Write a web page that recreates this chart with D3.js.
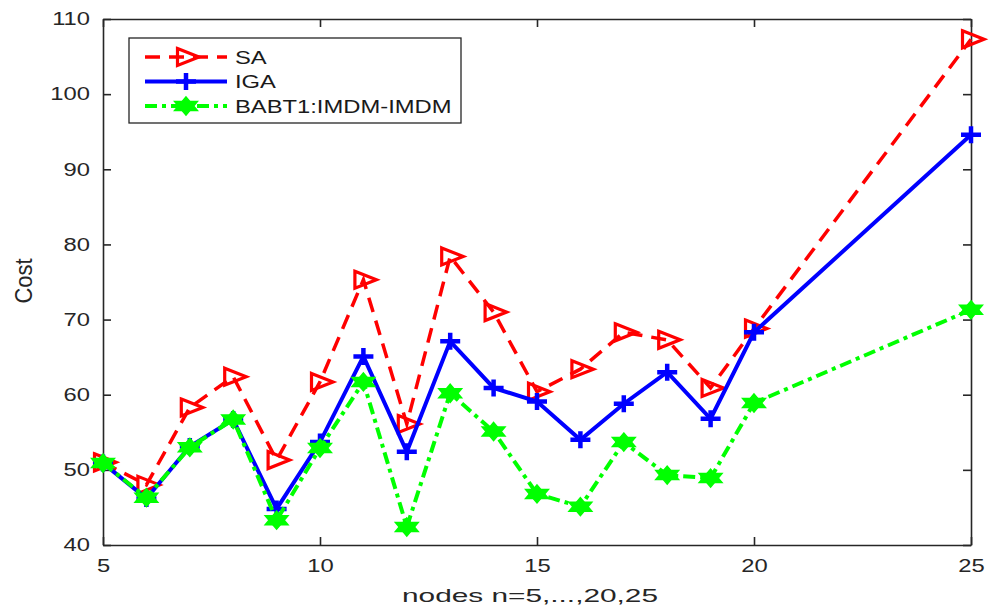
<!DOCTYPE html>
<html><head><meta charset="utf-8">
<script src="https://cdn.jsdelivr.net/npm/d3@7"></script>
<style>body{margin:0;background:#fff}svg{display:block}text{font-family:"Liberation Sans",Arial,sans-serif}</style>
</head><body><svg id="c" width="989" height="609"></svg>
<script>
const nodes = [5,6,7,8,9,10,11,12,13,14,15,16,17,18,19,20,25];
const saValues = [51.0,48.0,58.3,62.4,51.3,61.7,75.3,56.1,78.4,71.0,60.4,63.4,68.3,67.3,60.9,68.8,107.3];
const igaValues = [50.9,46.2,53.1,56.7,44.8,53.7,65.1,52.4,67.1,60.9,59.1,54.0,58.8,63.0,56.8,68.3,94.6];
const babtValues = [50.9,46.3,53.0,56.7,43.3,52.9,61.7,42.4,60.2,55.1,46.8,45.1,53.7,49.3,48.9,58.9,71.3];
const seriesNames = ["SA","IGA","BABT1:IMDM-IMDM"];
const xTicks = [5,10,15,20,25];
const yTicks = [40,50,60,70,80,90,100,110];

const svg = d3.select("#c");
const L=103,R=971,T=19,B=545;
const x = d3.scaleLinear().domain([5,25]).range([L,R]);
const y = d3.scaleLinear().domain([40,110]).range([B,T]);
const axisColor="#262626";
const STRETCH=1.32;
function widen(sel,f){
  sel.each(function(){
    const w=this.getComputedTextLength();
    d3.select(this).attr("textLength",w*f).attr("lengthAdjust","spacingAndGlyphs");
  });
}

// axes
const gx = svg.append("g").attr("transform",`translate(0,${B})`)
  .call(d3.axisBottom(x).tickValues(xTicks).tickSizeInner(-8).tickSizeOuter(0).tickPadding(14));
const gxt = svg.append("g").attr("transform",`translate(0,${T})`)
  .call(d3.axisTop(x).tickValues(xTicks).tickSizeInner(-8).tickSizeOuter(0).tickFormat(""));
const gy = svg.append("g").attr("transform",`translate(${L},0)`)
  .call(d3.axisLeft(y).tickValues(yTicks).tickSizeInner(-8).tickSizeOuter(0).tickPadding(13));
const gyr = svg.append("g").attr("transform",`translate(${R},0)`)
  .call(d3.axisRight(y).tickValues(yTicks).tickSizeInner(-8).tickSizeOuter(0).tickFormat(""));
[gx,gxt,gy,gyr].forEach(g=>{
  g.selectAll(".domain").attr("stroke",axisColor).attr("stroke-width",1.6);
  g.selectAll(".tick line").attr("stroke",axisColor).attr("stroke-width",1.6);
  g.selectAll(".tick text").attr("fill",axisColor).style("font-size","18px").style("font-family","Liberation Sans, Arial, sans-serif");
});
widen(gx.selectAll(".tick text"),STRETCH);
widen(gy.selectAll(".tick text"),STRETCH);

const xl = svg.append("text").attr("x",530).attr("y",602).attr("text-anchor","middle")
  .attr("fill",axisColor).style("font-size","19px").text("nodes n=5,...,20,25");
xl.attr("textLength",256).attr("lengthAdjust","spacingAndGlyphs");
svg.append("text").attr("transform",`translate(32,${281}) rotate(-90) scale(1,1.3)`).attr("text-anchor","middle")
  .attr("fill",axisColor).style("font-size","19px").attr("textLength",45).attr("lengthAdjust","spacingAndGlyphs").text("Cost");

const line = d3.line().x(d=>x(d[0])).y(d=>y(d[1]));
const styles = [
  {vals:saValues,color:"#ff0000",dash:"15,9",w:3.5,marker:"tri"},
  {vals:igaValues,color:"#0000ff",dash:null,w:4,marker:"plus"},
  {vals:babtValues,color:"#00ff00",dash:"12,5,4,5",w:4,marker:"hex"}
];

function drawMarker(g,type,color,cx,cy){
  if(type==="tri"){
    g.append("path").attr("d",`M${cx-8.5},${cy-8.5}L${cx+13},${cy}L${cx-8.5},${cy+8.5}Z`)
      .attr("fill","none").attr("stroke",color).attr("stroke-width",3.2);
  } else if(type==="plus"){
    g.append("path").attr("d",`M${cx-10},${cy}H${cx+10}M${cx},${cy-8.5}V${cy+8.5}`)
      .attr("stroke",color).attr("stroke-width",4.5).attr("fill","none");
  } else {
    const pts=[];
    for(let k=0;k<6;k++){
      const a=-Math.PI/2+k*Math.PI/3;
      pts.push([cx+10.5*Math.cos(a)*1.25,cy+9*Math.sin(a)]);
    }
    const t1=[pts[0],pts[2],pts[4]], t2=[pts[1],pts[3],pts[5]];
    [t1,t2].forEach(t=>g.append("path").attr("d","M"+t.map(p=>p.join(",")).join("L")+"Z")
      .attr("fill",color).attr("stroke",color).attr("stroke-width",1.5));
  }
}

styles.forEach(s=>{
  const data = nodes.map((n,i)=>[n,s.vals[i]]);
  svg.append("path").datum(data).attr("d",line).attr("fill","none")
    .attr("stroke",s.color).attr("stroke-width",s.w).attr("stroke-dasharray",s.dash)
    .attr("stroke-linejoin","miter");
  const g=svg.append("g");
  data.forEach(d=>drawMarker(g,s.marker,s.color,x(d[0]),y(d[1])));
});

// legend
const lg = svg.append("g");
lg.append("rect").attr("x",129).attr("y",38).attr("width",332).attr("height",85)
  .attr("fill","#fff").attr("stroke",axisColor).attr("stroke-width",1.3);
styles.forEach((s,i)=>{
  const ly = 57+i*24.5;
  lg.append("line").attr("x1",145).attr("x2",227).attr("y1",ly).attr("y2",ly)
    .attr("stroke",s.color).attr("stroke-width",s.w).attr("stroke-dasharray",s.dash);
  drawMarker(lg,s.marker,s.color,186,ly);
  const t=lg.append("text").attr("x",235).attr("y",ly+6.5).attr("fill","#1a1a1a").style("font-size","18px").text(seriesNames[i]);
  widen(t,STRETCH);
});
</script></body></html>
